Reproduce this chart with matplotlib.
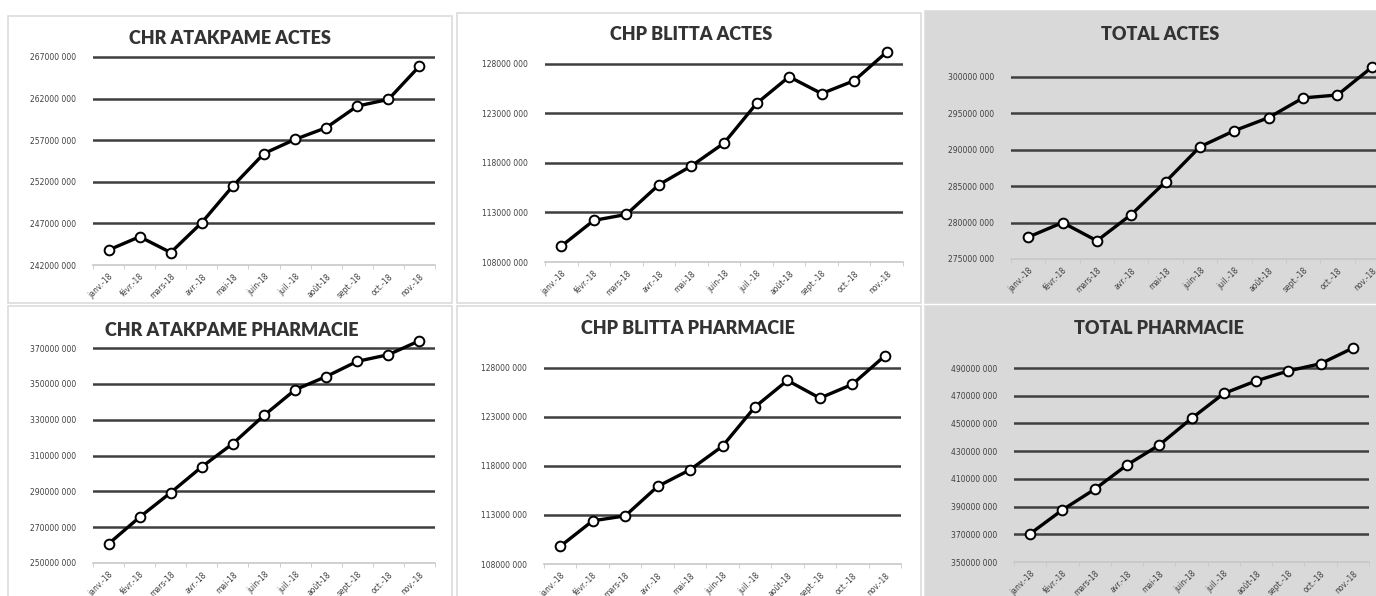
import matplotlib
matplotlib.use("Agg")
import matplotlib.pyplot as plt
from matplotlib.patches import Rectangle
from matplotlib.ticker import FixedLocator, FuncFormatter

# mois (axe des x)
mois = ["janv.-18", "févr.-18", "mars-18", "avr.-18", "mai-18", "juin-18",
        "juil.-18", "août-18", "sept.-18", "oct.-18", "nov.-18"]

# valeurs en millions
chr_actes = [243.8, 245.4, 243.5, 247.1, 251.5, 255.4, 257.1, 258.5, 261.1, 261.9, 265.9]
chp_actes = [109.6, 112.2, 112.8, 115.8, 117.7, 120.0, 124.0, 126.7, 125.0, 126.3, 129.2]
total_actes = [278.0, 280.0, 277.5, 281.1, 285.6, 290.4, 292.6, 294.4, 297.1, 297.5, 301.3]
chr_pharma = [260.7, 275.6, 289.3, 303.7, 316.7, 332.4, 346.7, 354.1, 362.6, 366.3, 374.1]
chp_pharma = [109.8, 112.4, 112.9, 115.9, 117.6, 120.0, 124.0, 126.7, 124.9, 126.3, 129.2]
total_pharma = [370.4, 387.6, 402.5, 420.0, 434.4, 453.6, 471.6, 480.7, 487.9, 493.1, 504.4]

# graduations de l'axe des y (millions)
ticks_chr_actes = [242, 247, 252, 257, 262, 267]
ticks_chp_actes = [108, 113, 118, 123, 128]
ticks_total_actes = [275, 280, 285, 290, 295, 300]
ticks_chr_pharma = [250, 270, 290, 310, 330, 350, 370]
ticks_chp_pharma = [108, 113, 118, 123, 128]
ticks_total_pharma = [350, 370, 390, 410, 430, 450, 470, 490]

W, H = 1376, 596
fig = plt.figure(figsize=(W / 100, H / 100), dpi=100)
fig.patch.set_facecolor("white")


def box(x0, y0, x1, y1, fc):
    fig.patches.append(Rectangle((x0 / W, 1 - y1 / H), (x1 - x0) / W, (y1 - y0) / H,
                                 transform=fig.transFigure, facecolor=fc,
                                 edgecolor="#dcdcdc", linewidth=1.2, zorder=-5))


def panel(title, data, ticks, bx, ax_px, ylim, title_xy, bg):
    box(*bx, bg)
    left, right, top, bottom = ax_px
    ax = fig.add_axes([left / W, 1 - bottom / H, (right - left) / W, (bottom - top) / H])
    ax.set_zorder(2)
    ax.patch.set_alpha(0)
    x = list(range(len(mois)))
    ax.plot(x, data, color="black", lw=2.4, marker="o", ms=7,
            mfc="white", mec="black", mew=1.4, clip_on=False, zorder=5)
    ax.set_xlim(-0.5, len(mois) - 0.5)
    ax.set_ylim(*ylim)
    for t in ticks[1:]:
        ax.axhline(t, color="#3f3f3f", lw=1.8, zorder=1)
    ax.yaxis.set_major_locator(FixedLocator(ticks))
    ax.yaxis.set_major_formatter(FuncFormatter(lambda v, p: f"{v * 1000:.0f} 000"))
    ax.set_xticks(x)
    ax.set_xticklabels(mois, rotation=45, ha="right", rotation_mode="anchor")
    ax.set_xticks([i - 0.5 for i in range(len(mois) + 1)], minor=True)
    ax.tick_params(axis="y", length=0, pad=12, labelsize=5.5, labelcolor="#404040")
    ax.tick_params(axis="x", which="major", length=0, pad=5, labelsize=5.5, labelcolor="#404040")
    ax.tick_params(axis="x", which="minor", length=3, color="#c8c8c8")
    for s in ["top", "right", "left"]:
        ax.spines[s].set_visible(False)
    ax.spines["bottom"].set_color("#c8c8c8")
    ax.spines["bottom"].set_linewidth(1.2)
    fig.text(title_xy[0] / W, 1 - title_xy[1] / H, title, ha="center", va="center",
             fontsize=13, fontweight="heavy", family="Lato", color="#333333")


panel("CHR ATAKPAME ACTES", chr_actes, ticks_chr_actes, (8, 16, 452, 303),
      (93, 435, 50, 265), (242, 267.84), (230, 39), "white")
panel("CHP BLITTA ACTES", chp_actes, ticks_chp_actes, (457, 13, 921, 303),
      (545, 903, 48, 262), (108, 129.6), (691, 35), "white")
panel("TOTAL ACTES", total_actes, ticks_total_actes, (925, 11, 1390, 303),
      (1011, 1389, 60, 259), (275, 302.3), (1160, 35), "#d9d9d9")
panel("CHR ATAKPAME PHARMACIE", chr_pharma, ticks_chr_pharma, (8, 306, 452, 600),
      (93, 435, 335, 563), (250, 377.3), (232, 330), "white")
panel("CHP BLITTA PHARMACIE", chp_pharma, ticks_chp_pharma, (457, 306, 921, 600),
      (544, 901, 350, 564), (108, 129.8), (688, 329), "white")
panel("TOTAL PHARMACIE", total_pharma, ticks_total_pharma, (925, 306, 1390, 600),
      (1014, 1369, 345, 562), (350, 506.6), (1159, 329), "#d9d9d9")

fig.savefig("out.png", dpi=100, facecolor=fig.get_facecolor())
